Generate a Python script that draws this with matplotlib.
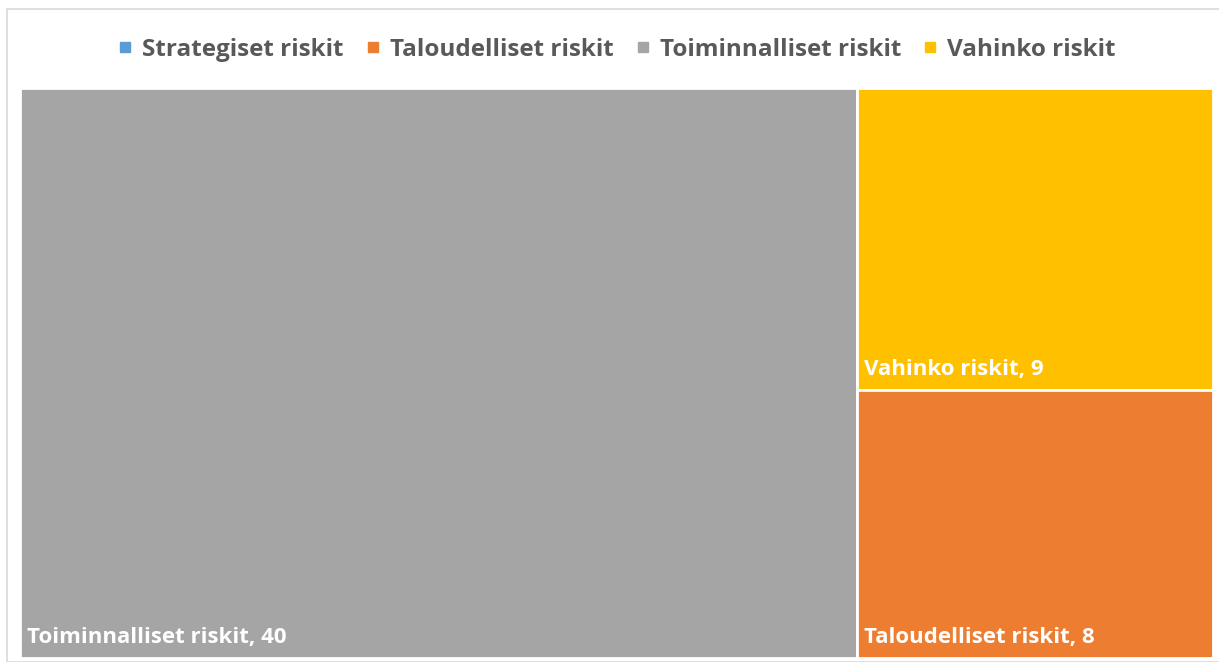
import matplotlib.pyplot as plt
from matplotlib.patches import Rectangle
from matplotlib.lines import Line2D

# data
categories = ['Strategiset riskit', 'Taloudelliset riskit', 'Toiminnalliset riskit', 'Vahinko riskit']
values = [0, 8, 40, 9]
colors = ['#5B9BD5', '#ED7D31', '#A5A5A5', '#FFC000']

W, H = 1219, 662
fig = plt.figure(figsize=(W / 100, H / 100), dpi=100)
plt.rcParams['font.family'] = ['Open Sans', 'DejaVu Sans']

# chart border
fig.patches.append(Rectangle((7 / W, 0), 1.2, 1 - 9 / H, transform=fig.transFigure,
                             fill=False, edgecolor='#D9D9D9', linewidth=1.2))

ax = fig.add_axes([20 / W, 4 / H, 1193 / W, 570 / H])
ax.set_xlim(0, 1)
ax.set_ylim(0, 1)
ax.axis('off')

# simple treemap: biggest item gets a full-height column, the rest stacked on the right
items = sorted([(v, c, col) for v, c, col in zip(values, categories, colors) if v > 0], reverse=True)
total = sum(v for v, _, _ in items)
rects = []
w0 = items[0][0] / total
rects.append((0, 0, w0, 1, items[0]))
rest = items[1:]
rest_total = sum(v for v, _, _ in rest)
top = 1.0
for it in rest:
    h = it[0] / rest_total
    rects.append((w0, top - h, 1 - w0, h, it))
    top -= h

for x, y, w, h, (v, name, col) in rects:
    ax.add_patch(Rectangle((x, y), w, h, facecolor=col, edgecolor='white', linewidth=2))
    ax.annotate(f'{name}, {v}', (x, y), xytext=(5, 7), textcoords='offset points',
                color='white', fontsize=16, fontweight='bold', va='bottom', ha='left')

handles = [Line2D([], [], marker='s', linestyle='none', markersize=7, color=c) for c in colors]
fig.legend(handles, categories, loc='center', bbox_to_anchor=(0.505, 1 - 50 / H), ncol=4,
           frameon=False, handletextpad=0.3, columnspacing=0.8, handlelength=0.8,
           prop={'size': 17.5, 'weight': 'bold'}, labelcolor='#595959')

fig.savefig('out.png', dpi=100)
